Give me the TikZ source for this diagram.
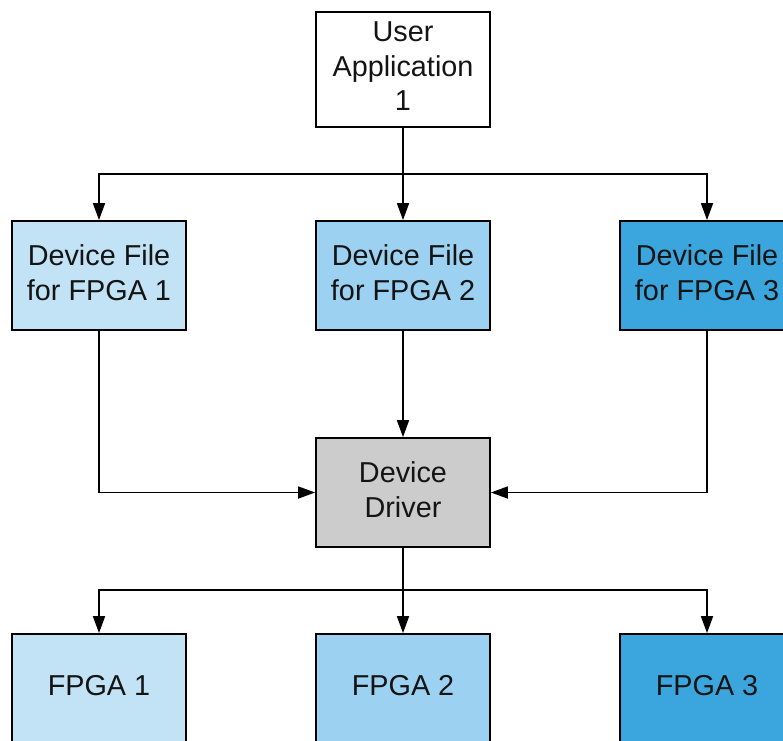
\documentclass[tikz,border=0pt]{standalone}
\usepackage{fontspec}
\setmainfont{Liberation Sans}
\usetikzlibrary{arrows.meta}
\definecolor{tintA}{HTML}{C2E3F5}
\definecolor{tintB}{HTML}{9DD1F1}
\definecolor{tintC}{HTML}{3BA6DE}
\definecolor{driverfill}{HTML}{CCCCCC}
\tikzset{
  box/.style={draw=black, line width=1.8pt, minimum width=174pt, minimum height=109pt,
    inner sep=0pt},
  lbl/.style={inner sep=0pt, align=center, font=\fontsize{28.8}{34.5}\selectfont, text=black!92},
  link/.style={draw=black, line width=1.7pt},
  arr/.style={link, -{Triangle[length=17pt, width=12pt]}},
}
\begin{document}
\begin{tikzpicture}[x=1pt, y=-1pt]
  \clip (0,0) rectangle (783,740);
  \fill[white] (0,0) rectangle (783,740);

  % top: user application
  \node[box, fill=white, minimum height=115pt] (app) at (403,69.5) {};
  \node[lbl] (appt) at (403,66.5) {User\\Application\\1};

  % device files
  \node[box, fill=tintA] (df1) at (99,275.5) {};
  \node[box, fill=tintB] (df2) at (403,275.5) {};
  \node[box, fill=tintC] (df3) at (707,275.5) {};
  \node[lbl] (df1t) at (99,272.5) {Device File\\for FPGA 1};
  \node[lbl] (df2t) at (403,272.5) {Device File\\for FPGA 2};
  \node[lbl] (df3t) at (707,272.5) {Device File\\for FPGA 3};

  % driver
  \node[box, fill=driverfill] (drv) at (403,492.5) {};
  \node[lbl] (drvt) at (403,489.5) {Device\\Driver};

  % FPGAs
  \node[box, fill=tintA] (fp1) at (99,688.5) {};
  \node[box, fill=tintB] (fp2) at (403,688.5) {};
  \node[box, fill=tintC] (fp3) at (707,688.5) {};
  \node[lbl] (fp1t) at (99,685.5) {FPGA 1};
  \node[lbl] (fp2t) at (403,685.5) {FPGA 2};
  \node[lbl] (fp3t) at (707,685.5) {FPGA 3};

  % branch points
  \coordinate (split1) at (403,174);
  \coordinate (split2) at (403,590);

  % application to device files
  \draw[link] (app.south) -- (split1);
  \draw[arr] (split1) -| (df1.north);
  \draw[arr] (split1) -- (df2.north);
  \draw[arr] (split1) -| (df3.north);

  % device files to driver
  \draw[arr] (df1.south) |- (drv.west);
  \draw[arr] (df2.south) -- (drv.north);
  \draw[arr] (df3.south) |- (drv.east);

  % driver to FPGAs
  \draw[link] (drv.south) -- (split2);
  \draw[arr] (split2) -| (fp1.north);
  \draw[arr] (split2) -- (fp2.north);
  \draw[arr] (split2) -| (fp3.north);
\end{tikzpicture}
\end{document}
